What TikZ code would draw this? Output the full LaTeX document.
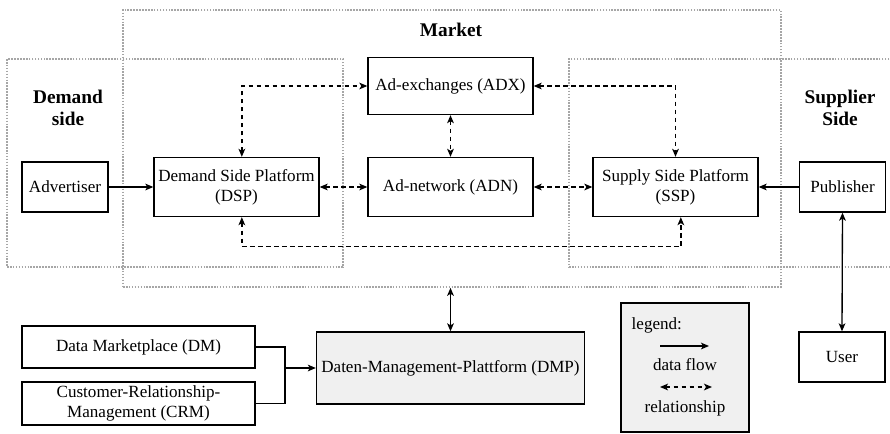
\documentclass[tikz,border=0pt]{standalone}
\usepackage{fontspec}
\setmainfont{Liberation Serif}
\usetikzlibrary{calc}
\usetikzlibrary{arrows.meta}

\begin{document}
\begin{tikzpicture}[x=0.75pt,y=-0.75pt,
  every node/.style={font=\fontsize{12.8}{15}\selectfont},
  box/.style={draw,line width=1pt,align=center,inner sep=0pt},
  zone/.style={draw=gray!70,line width=1.2pt,densely dotted,inner sep=0pt},
  head/.style={font=\fontsize{14.5}{16.5}\selectfont\bfseries,align=center},
  flow/.style={black,line width=1pt,->,>={Stealth[length=6pt,width=5pt,inset=1.5pt]}},
  rel/.style={black,line width=1pt,dash pattern=on 3.5pt off 2.5pt,<->,>={Stealth[length=6pt,width=5pt,inset=1.5pt]}}]
\useasboundingbox (0,0) rectangle (890,433);
% dotted areas
\node[zone,minimum width=493.5pt,minimum height=207.75pt] (market) at (452,148.5) {};
\node[zone,minimum width=252pt,minimum height=156pt] (demand) at (175,163) {};
\node[zone,minimum width=244.5pt,minimum height=156pt] (supply) at (732,163) {};
\node[head] (tmarket) at (451,30) {Market};
\node[head] (tdemand) at (68,108) {Demand\\side};
\node[head] (tsupply) at (840,108) {Supplier\\Side};
% boxes
\node[box,minimum width=64.5pt,minimum height=37.5pt] (adv) at (65,187) {Advertiser};
\node[box,minimum width=123.75pt,minimum height=44.25pt] (dsp) at (236.5,187) {Demand Side Platform\\(DSP)};
\node[box,minimum width=123.75pt,minimum height=42.75pt] (adx) at (450.5,86) {Ad-exchanges (ADX)};
\node[box,minimum width=123.75pt,minimum height=44.25pt] (adn) at (450.5,187) {Ad-network (ADN)};
\node[box,minimum width=123.75pt,minimum height=44.25pt] (ssp) at (675.5,187) {Supply Side Platform\\(SSP)};
\node[box,minimum width=64.5pt,minimum height=37.5pt] (pub) at (842.5,187) {Publisher};
\node[box,minimum width=64.5pt,minimum height=37.5pt] (user) at (842,357) {User};
\node[box,minimum width=174.75pt,minimum height=31.5pt] (dm) at (138.5,347) {Data Marketplace (DM)};
\node[box,minimum width=174.75pt,minimum height=32.25pt] (crm) at (138.5,403.5) {Customer-Relationship-\\Management (CRM)};
\node[box,fill=gray!12,minimum width=201pt,minimum height=54pt] (dmp) at (450.5,368) {Daten-Management-Plattform (DMP)};
% relationships
\draw[rel] ([xshift=4pt]dsp.north) |- (adx.west);
\draw[rel] (adx.east) -| (ssp.north);
\draw[rel] (adx.south) -- (adn.north);
\draw[rel] (dsp.east) -- (adn.west);
\draw[rel] (adn.east) -- (ssp.west);
\draw[rel] ([xshift=4pt]dsp.south) -- ++(0,29.5) -| ([xshift=4pt]ssp.south);
% data flows
\draw[flow] (adv.east) -- (dsp.west);
\draw[flow] (pub.west) -- (ssp.east);
\draw[flow,<->] (pub.south) -- (user.north);
\draw[flow,<->] (dmp.north) -- (dmp.north |- market.south);
\coordinate (join) at (285,368);
\draw[line width=1pt] (dm.east) -| (join);
\draw[line width=1pt] (crm.east) -| (join);
\draw[flow] (join) -- (dmp.west);
% legend
\node[box,fill=gray!12,minimum width=96pt,minimum height=96.75pt] (legend) at (685,367.5) {};
\node[anchor=west] (tlegend) at (627,325) {legend:};
\coordinate (fa) at (660,346);
\coordinate (fb) at (709,346);
\draw[flow] (fa) -- (fb);
\node (tflow) at (685,365) {data flow};
\coordinate (ra) at (660,387);
\coordinate (rb) at (712,387);
\draw[rel] (ra) -- (rb);
\node (trel) at (685,408) {relationship};
\end{tikzpicture}
\end{document}
